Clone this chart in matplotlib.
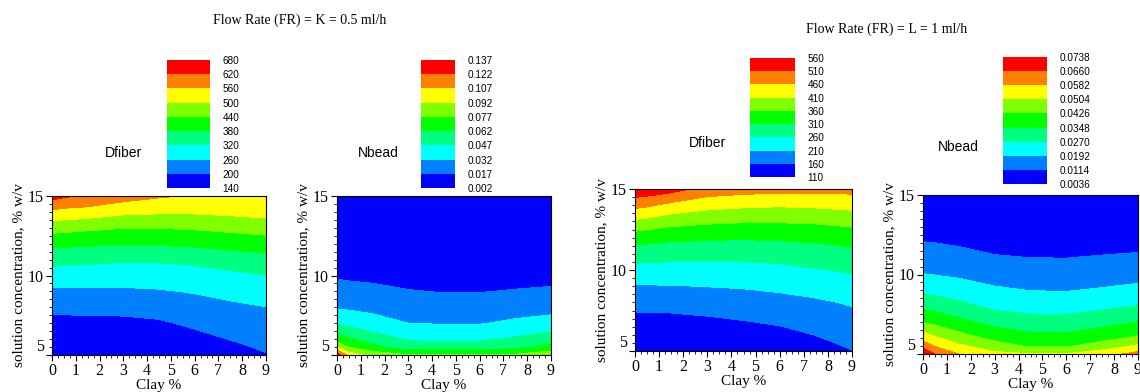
import matplotlib

matplotlib.use("Agg")

import matplotlib.pyplot as plt
import numpy as np
from matplotlib.colors import BoundaryNorm, ListedColormap
from matplotlib.colorbar import ColorbarBase
from matplotlib.ticker import MultipleLocator

plt.rcParams["font.family"] = ["Liberation Serif", "DejaVu Serif"]

# grid the surfaces were read on
CLAY = [0, 0.5, 1.5, 3, 4.5, 6, 7.5, 9]
CONC = [5, 5.5, 6, 7, 8, 9, 10, 11, 12, 13, 14, 15]

# one list per clay column, concentration 5 -> 15
DFIBER_K = [
    [150, 162, 175, 188, 210, 248, 292, 340, 395, 464, 547, 645],
    [150, 162, 174, 188, 211, 249, 290, 338, 393, 460, 540, 628],
    [150, 161, 172, 187, 213, 250, 289, 334, 389, 452, 533, 616],
    [150, 159, 168, 187, 216, 251, 287, 327, 385, 442, 514, 586],
    [145, 156, 168, 192, 225, 255, 290, 328, 387, 442, 508, 567],
    [150, 166, 182, 211, 237, 264, 296, 334, 392, 447, 508, 555],
    [175, 188, 202, 225, 249, 276, 306, 350, 401, 456, 514, 545],
    [197, 208, 218, 239, 259, 289, 319, 360, 408, 468, 520, 545],
]
NBEAD_K = [
    [0.135, 0.0908, 0.0694, 0.0452, 0.0304, 0.0226, 0.0153, 0.011, 0.008, 0.006, 0.005, 0.004],
    [0.100, 0.077, 0.0634, 0.0427, 0.0296, 0.0217, 0.0146, 0.0105, 0.0078, 0.006, 0.005, 0.004],
    [0.0866, 0.0661, 0.0542, 0.0381, 0.0279, 0.0204, 0.0137, 0.010, 0.0075, 0.006, 0.005, 0.004],
    [0.078, 0.053, 0.0456, 0.032, 0.0249, 0.0177, 0.012, 0.0085, 0.0065, 0.005, 0.004, 0.0035],
    [0.078, 0.0532, 0.0439, 0.031, 0.0236, 0.0164, 0.0115, 0.0082, 0.0062, 0.005, 0.004, 0.0035],
    [0.078, 0.0541, 0.0447, 0.0312, 0.0238, 0.0165, 0.0116, 0.0083, 0.0062, 0.005, 0.004, 0.0035],
    [0.079, 0.0581, 0.0493, 0.0346, 0.0256, 0.0178, 0.0122, 0.0088, 0.0066, 0.0052, 0.0042, 0.0036],
    [0.088, 0.0666, 0.0548, 0.0377, 0.0269, 0.0189, 0.0128, 0.0092, 0.007, 0.0055, 0.0045, 0.0038],
]
DFIBER_L = [
    [118, 126, 135, 148, 178, 207, 243, 283, 333, 401, 475, 548],
    [118, 126, 135, 149, 178, 207, 243, 282, 329, 394, 468, 543],
    [118, 126, 135, 150, 179, 208, 241, 278, 321, 379, 446, 530],
    [118, 126, 135, 156, 183, 211, 242, 276, 317, 369, 427, 489],
    [118, 127, 137, 163, 189, 214, 243, 276, 315, 364, 419, 480],
    [120, 132, 145, 172, 195, 220, 248, 280, 317, 364, 415, 476],
    [140, 151, 161, 182, 203, 229, 257, 287, 322, 367, 419, 476],
    [159, 168, 177, 195, 215, 240, 266, 295, 330, 376, 425, 476],
]
NBEAD_L = [
    [0.0727, 0.0634, 0.0551, 0.0423, 0.0327, 0.0253, 0.0194, 0.0155, 0.0116, 0.0081, 0.0065, 0.0052],
    [0.066, 0.0577, 0.0516, 0.0407, 0.0317, 0.0247, 0.019, 0.0152, 0.0114, 0.0079, 0.0063, 0.0051],
    [0.0582, 0.0519, 0.0463, 0.0369, 0.0292, 0.0231, 0.018, 0.0142, 0.0105, 0.007, 0.0058, 0.0048],
    [0.0523, 0.0461, 0.0407, 0.0323, 0.0253, 0.0203, 0.0162, 0.0123, 0.0087, 0.0068, 0.0056, 0.0047],
    [0.0508, 0.0416, 0.0376, 0.030, 0.024, 0.0191, 0.0153, 0.0116, 0.008, 0.0064, 0.0053, 0.0045],
    [0.0507, 0.0418, 0.0375, 0.0299, 0.0239, 0.0189, 0.0152, 0.0115, 0.008, 0.0064, 0.0053, 0.0045],
    [0.0545, 0.0463, 0.0403, 0.0322, 0.0254, 0.0199, 0.0159, 0.0122, 0.0086, 0.0068, 0.0056, 0.0047],
    [0.061, 0.0517, 0.044, 0.035, 0.0272, 0.0212, 0.0167, 0.0128, 0.0092, 0.0072, 0.0059, 0.0049],
]

LEVELS_DFIBER_K = [140, 200, 260, 320, 380, 440, 500, 560, 620, 680]
LEVELS_NBEAD_K = [0.002, 0.017, 0.032, 0.047, 0.062, 0.077, 0.092, 0.107, 0.122, 0.137]
LEVELS_DFIBER_L = [110, 160, 210, 260, 310, 360, 410, 460, 510, 560]
LEVELS_NBEAD_L = [0.0036, 0.0114, 0.0192, 0.0270, 0.0348, 0.0426, 0.0504, 0.0582, 0.0660, 0.0738]

COLORS = ["#0000ff", "#0080ff", "#00ffff", "#00ff80", "#00ff00",
          "#80ff00", "#ffff00", "#ff8000", "#ff0000"]

W, H = 1140, 392
SANS = "Liberation Sans"


def px_rect(left, top, right, bottom):
    return [left / W, 1 - bottom / H, (right - left) / W, (bottom - top) / H]


def draw_panel(fig, ax_box, cb_box, columns, levels, fmt, name, name_xy):
    cmap = ListedColormap(COLORS)
    cmap.set_under(COLORS[0])
    cmap.set_over(COLORS[-1])
    norm = BoundaryNorm(levels, cmap.N)

    ax = fig.add_axes(px_rect(*ax_box))
    z = np.array(columns).T
    ax.contourf(CLAY, CONC, z, levels=levels, cmap=cmap, norm=norm, extend="both")
    ax.set_xlim(0, 9)
    ax.set_ylim(5, 15)
    ax.set_xticks(range(10))
    ax.set_yticks([5, 10, 15])
    ax.xaxis.set_minor_locator(MultipleLocator(0.25))
    ax.yaxis.set_minor_locator(MultipleLocator(0.5))
    ax.tick_params(which="both", direction="out", top=False, right=False, labelsize=11.5, pad=2)
    ax.tick_params(which="major", length=4)
    ax.tick_params(which="minor", length=2.5)
    # the bottom "5" sits a little above its tick in the original
    ax.get_yticklabels()[0].set_verticalalignment("bottom")
    ax.set_xlabel("Clay %", fontsize=11, labelpad=0)
    ax.set_ylabel("solution concentration, % w/v", fontsize=11, labelpad=2)

    cax = fig.add_axes(px_rect(*cb_box))
    cb = ColorbarBase(cax, cmap=cmap, norm=norm, boundaries=levels, ticks=levels, spacing="uniform")
    cb.outline.set_visible(False)
    cb.set_ticklabels([fmt.format(v) for v in levels])
    cax.tick_params(length=0, pad=9, labelsize=7.2)
    for lbl in cax.get_yticklabels():
        lbl.set_family(SANS)

    fig.text(name_xy[0] / W, 1 - name_xy[1] / H, name, ha="center", va="center",
             fontsize=10, family=SANS)


fig = plt.figure(figsize=(W / 100, H / 100), dpi=100)

draw_panel(fig, (52, 196, 266, 355), (167, 60, 210, 188), DFIBER_K,
           LEVELS_DFIBER_K, "{:.0f}", "Dfiber", (123, 153))
draw_panel(fig, (337, 196, 551, 355), (421, 60, 455, 188), NBEAD_K,
           LEVELS_NBEAD_K, "{:.3f}", "Nbead", (378, 153))
draw_panel(fig, (635, 189, 852, 351), (750, 58, 795, 177), DFIBER_L,
           LEVELS_DFIBER_L, "{:.0f}", "Dfiber", (707, 143))
draw_panel(fig, (923, 195, 1138, 354), (1003, 57, 1047, 184), NBEAD_L,
           LEVELS_NBEAD_L, "{:.4f}", "Nbead", (958, 147))

fig.text(300 / W, 1 - 20 / H, "Flow Rate (FR) = K = 0.5 ml/h", ha="center", va="center", fontsize=10)
fig.text(887 / W, 1 - 29 / H, "Flow Rate (FR) = L = 1 ml/h", ha="center", va="center", fontsize=10)

fig.savefig("out.png", dpi=100)
